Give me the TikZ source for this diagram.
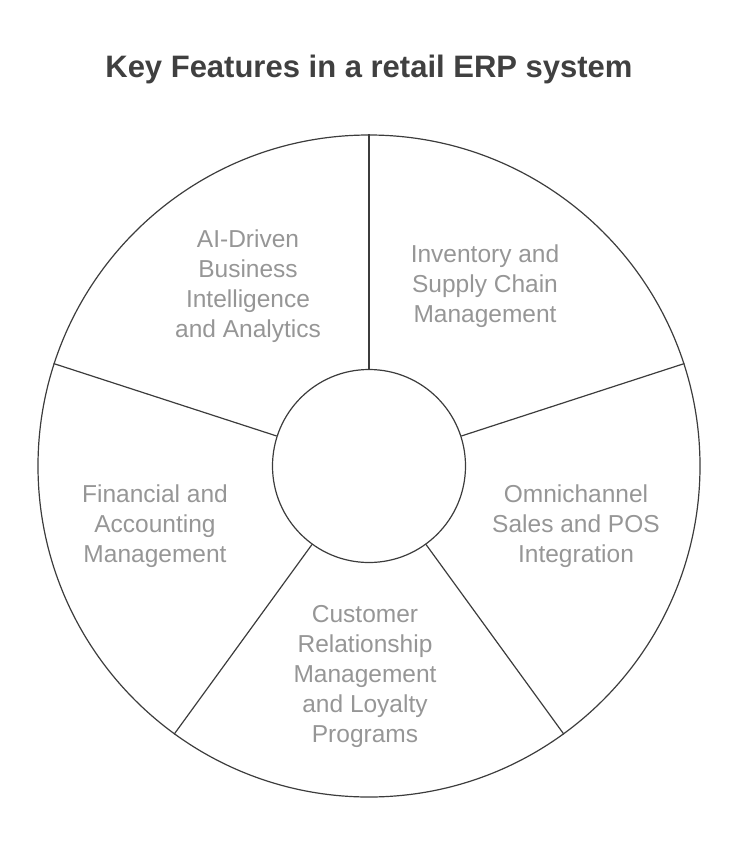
\documentclass[tikz,border=0pt]{standalone}
\usepackage{fontspec}
\setmainfont{Liberation Sans}
\definecolor{lineERP}{HTML}{3c3c3c}
\definecolor{textERP}{HTML}{969696}
\definecolor{titleERP}{HTML}{404040}
\begin{document}
\begin{tikzpicture}[x=1pt,y=-1pt,
  ring/.style={circle, draw=lineERP, line width=1.2pt, inner sep=0pt},
  label/.style={text=textERP, align=center, font=\fontsize{24.5}{30}\selectfont}]

\useasboundingbox (0,0) rectangle (737,857);

\node[font=\bfseries\fontsize{31}{36}\selectfont, text=titleERP] (title) at (369,69) {Key Features in a retail ERP system};

\node[ring, minimum size=662pt] (rim) at (369,466) {};
\node[ring, minimum size=193pt] (hub) at (369,466) {};

\foreach \a in {90,18,-54,-126,162} {
 \draw[lineERP, line width=1.2pt] (hub.\a) -- (rim.\a);
}

\node[label] (bi) at (248,286) {AI-Driven\\Business\\Intelligence\\and Analytics};
\node[label] (inv) at (485,286) {Inventory and\\Supply Chain\\Management};
\node[label] (omni) at (576,526) {Omnichannel\\Sales and POS\\Integration};
\node[label] (fin) at (155,526) {Financial and\\Accounting\\Management};
\node[label] (crm) at (365,676) {Customer\\Relationship\\Management\\and Loyalty\\Programs};
\end{tikzpicture}
\end{document}
